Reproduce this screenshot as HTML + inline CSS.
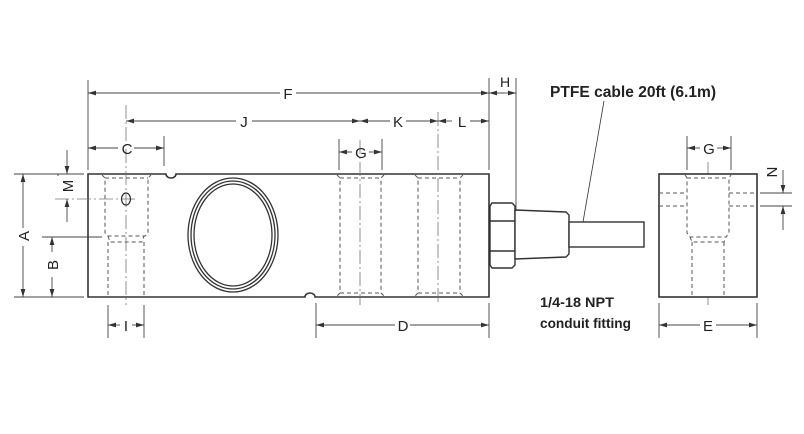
<!DOCTYPE html>
<html><head><meta charset="utf-8"><style>
html,body{margin:0;padding:0;background:#fff;}
svg{display:block;}
text{font-family:"Liberation Sans",sans-serif;fill:#222;}
</style></head><body>
<svg width="804" height="434" viewBox="0 0 804 434" xmlns="http://www.w3.org/2000/svg">
<defs>
<marker id="a" viewBox="0 0 10 6" refX="10" refY="3" markerWidth="8" markerHeight="5" orient="auto-start-reverse" markerUnits="userSpaceOnUse"><path d="M0,0 L10,3 L0,6 z" fill="#333"/></marker>
</defs>
<g stroke="#333" stroke-width="1" fill="none">
<!-- main body -->
<path d="M88,174 H166 A5,4 0 0 0 176,174 H489 V297 H315 A5,4 0 0 0 305,297 H88 Z" stroke-width="1.6" fill="#fff"/>
<!-- ellipse rings -->
<ellipse cx="233" cy="235" rx="45" ry="57" stroke-width="1.3"/>
<ellipse cx="233" cy="235" rx="42" ry="54" stroke-width="1.3"/>
<ellipse cx="233" cy="235" rx="39" ry="51" stroke-width="1.3"/>
<!-- left hole -->
<g stroke-dasharray="4,3" stroke="#555">
<path d="M102,175 L105,178 V233 L108,236 H145 L148,233 V178 L151,175"/>
<path d="M105,178 H148"/>
<path d="M108,236 L110,242 H142 L144,236"/>
<path d="M108,242 V297 M144,242 V297"/>
<!-- middle holes -->
<path d="M337,175 L340,178 V293 L337,296 M384,175 L381,178 V293 L384,296 M340,178 H381 M340,293 H381"/>
<path d="M415,175 L418,178 V293 L415,296 M463,175 L460,178 V293 L463,296 M418,178 H460 M418,293 H460"/>
</g>
<!-- centerlines -->
<g stroke="#777" stroke-dasharray="14,3,2,3" stroke-width="0.8">
<path d="M126,105 V305"/>
<path d="M360,140 V305"/>
<path d="M438,112 V305"/>
<path d="M708,162 V305"/>
<path d="M55,199 H137" />
</g>
<ellipse cx="126" cy="199" rx="4.5" ry="6" stroke-width="1.3"/>
<!-- fitting -->
<path d="M492,203 H512 L515,206 V265 L512,268 H492 L490,265 V206 Z" stroke-width="1.4" fill="#fff"/>
<path d="M490,221 H515 M490,251 H515" stroke-width="1.4"/>
<path d="M515,210 L566,212 L569,215 V254 L566,257 L515,259 Z" stroke-width="1.4" fill="#fff"/>
<rect x="569" y="222" width="75" height="25" stroke-width="1.4" fill="#fff"/>
<path d="M604,101 L583,222" stroke-width="0.8"/>
<!-- side view -->
<rect x="659" y="174" width="98" height="123" stroke-width="1.6" fill="#fff"/>
<g stroke-dasharray="4,3" stroke="#555">
<path d="M685,175 L687,178 V233 L690,237 H726 L729,233 V178 L731,175 M687,178 H729"/>
<path d="M690,237 L692,242 H724 L726,237 M692,242 V297 M724,242 V297"/>
<path d="M659,193 H687 M659,206 H687 M729,193 H757 M729,206 H757"/>
</g>
<!-- extension lines -->
<g stroke="#444" stroke-width="0.9">
<path d="M88,80 V170"/>
<path d="M489,78 V170"/>
<path d="M516,78 V210"/>
<path d="M164,136 V166"/>
<path d="M339,139 V170 M382,139 V170"/>
<path d="M687,136 V170 M731,136 V170"/>
<path d="M14,174 H84 M14,297 H84 M42,237 H102"/>
<path d="M58,174 V176"/>
<path d="M760,193 H792 M760,206 H792"/>
<path d="M108,305 V338 M144,305 V338"/>
<path d="M316,303 V338 M489,303 V338"/>
<path d="M659,303 V338 M757,303 V338"/>
</g>
<!-- dimension lines -->
<g stroke="#444" stroke-width="0.9">
<path d="M88,93 H280 M296,93 H489" />
<path d="M88,93 H280" marker-start="url(#a)"/>
<path d="M296,93 H489" marker-end="url(#a)"/>
<path d="M489,93 H504" marker-start="url(#a)"/>
<path d="M501,93 H516" marker-end="url(#a)"/>
<path d="M126,121 H236" marker-start="url(#a)"/>
<path d="M252,121 H360" marker-end="url(#a)"/>
<path d="M360,121 H390" marker-start="url(#a)"/>
<path d="M406,121 H438" marker-end="url(#a)"/>
<path d="M438,121 H452" marker-start="url(#a)"/>
<path d="M470,121 H489" marker-end="url(#a)"/>
<path d="M88,148 H118" marker-start="url(#a)"/>
<path d="M134,148 H164" marker-end="url(#a)"/>
<path d="M339,152 H352" marker-start="url(#a)"/>
<path d="M369,152 H382" marker-end="url(#a)"/>
<path d="M687,148 H700" marker-start="url(#a)"/>
<path d="M717,148 H731" marker-end="url(#a)"/>
<path d="M23,174 V228" marker-start="url(#a)"/>
<path d="M23,246 V297" marker-end="url(#a)"/>
<path d="M52,237 V252" marker-start="url(#a)"/>
<path d="M52,277 V297" marker-end="url(#a)"/>
<path d="M67,150 V174" marker-end="url(#a)"/>
<path d="M67,199 V222" marker-start="url(#a)"/>
<path d="M783,170 V193" marker-end="url(#a)"/>
<path d="M783,206 V230" marker-start="url(#a)"/>
<path d="M108,325 H120" marker-start="url(#a)"/>
<path d="M132,325 H144" marker-end="url(#a)"/>
<path d="M316,325 H395" marker-start="url(#a)"/>
<path d="M410,325 H489" marker-end="url(#a)"/>
<path d="M659,325 H700" marker-start="url(#a)"/>
<path d="M716,325 H757" marker-end="url(#a)"/>
</g>
</g>
<g font-size="15" text-anchor="middle">
<text x="288" y="99">F</text>
<text x="505" y="87" font-size="14">H</text>
<text x="244" y="127">J</text>
<text x="398" y="127">K</text>
<text x="462" y="127">L</text>
<text x="127" y="154">C</text>
<text x="361" y="158">G</text>
<text x="709" y="154">G</text>
<text x="403" y="331">D</text>
<text x="708" y="331">E</text>
<text x="126" y="331">I</text>
<text transform="translate(29,236) rotate(-90)">A</text>
<text transform="translate(58,265) rotate(-90)">B</text>
<text transform="translate(73,186) rotate(-90)">M</text>
<text transform="translate(767,172) rotate(90)">N</text>
</g>
<text x="550" y="97" font-size="16" font-weight="bold" textLength="166" lengthAdjust="spacingAndGlyphs">PTFE cable 20ft (6.1m)</text>
<text x="540" y="307" font-size="14" font-weight="bold" textLength="74" lengthAdjust="spacingAndGlyphs">1/4-18 NPT</text>
<text x="540" y="328" font-size="14" font-weight="bold" textLength="91" lengthAdjust="spacingAndGlyphs">conduit fitting</text>
</svg>
</body></html>
